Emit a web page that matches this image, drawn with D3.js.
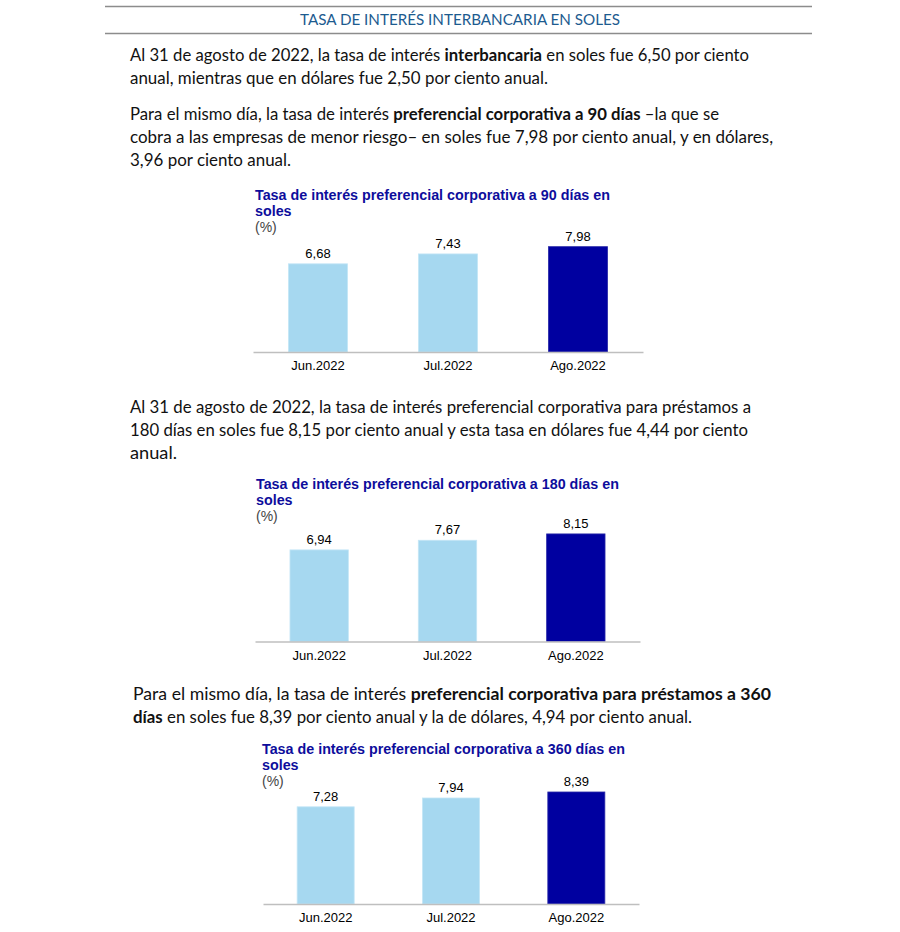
<!DOCTYPE html>
<html><head><meta charset="utf-8">
<script src="https://cdn.jsdelivr.net/npm/d3@7"></script>
<style>body{margin:0;background:#fff}svg{display:block}</style>
</head><body>
<script>
const months = ["Jun.2022","Jul.2022","Ago.2022"];
const rate90 = [6.68, 7.43, 7.98];
const rate180 = [6.94, 7.67, 8.15];
const rate360 = [7.28, 7.94, 8.39];
const valueLabels90 = ["6,68","7,43","7,98"];
const valueLabels180 = ["6,94","7,67","8,15"];
const valueLabels360 = ["7,28","7,94","8,39"];
const chartTitles = [
  ["Tasa de interés preferencial corporativa a 90 días en","soles"],
  ["Tasa de interés preferencial corporativa a 180 días en","soles"],
  ["Tasa de interés preferencial corporativa a 360 días en","soles"]
];
const headerTitle = "TASA DE INTERÉS INTERBANCARIA EN SOLES";
// paragraphs: each line is list of [text,bold]
const paragraphs = [
  {x:130, ys:[61,84], ends:[749,548], lines:[
    [["Al 31 de agosto de 2022, la tasa de interés ",0],["interbancaria",1],[" en soles fue 6,50 por ciento",0]],
    [["anual, mientras que en dólares fue 2,50 por ciento anual.",0]]]},
  {x:130, ys:[120,143,166], ends:[719,773,291], lines:[
    [["Para el mismo día, la tasa de interés ",0],["preferencial corporativa a 90 días",1],[" –la que se",0]],
    [["cobra a las empresas de menor riesgo– en soles fue 7,98 por ciento anual, y en dólares,",0]],
    [["3,96 por ciento anual.",0]]]},
  {x:130, ys:[413,436,459], ends:[751,748,177], lines:[
    [["Al 31 de agosto de 2022, la tasa de interés preferencial corporativa para préstamos a",0]],
    [["180 días en soles fue 8,15 por ciento anual y esta tasa en dólares fue 4,44 por ciento",0]],
    [["anual.",0]]]},
  {x:133, ys:[700,723], ends:[771,692], lines:[
    [["Para el mismo día, la tasa de interés ",0],["preferencial corporativa para préstamos a 360",1]],
    [["días",1],[" en soles fue 8,39 por ciento anual y la de dólares, 4,94 por ciento anual.",0]]]}
];

const W = 900, H = 932;
const svg = d3.select("body").append("svg").attr("width", W).attr("height", H);

// header
svg.append("line").attr("x1",105).attr("x2",812).attr("y1",6.5).attr("y2",6.5).attr("stroke","#8c8c8c").attr("stroke-width",1.5);
svg.append("line").attr("x1",105).attr("x2",812).attr("y1",33.5).attr("y2",33.5).attr("stroke","#8c8c8c").attr("stroke-width",1.5);
svg.append("text").attr("x",300).attr("y",25).attr("textLength",320).attr("lengthAdjust","spacingAndGlyphs")
  .attr("font-family","Lato, 'Open Sans', sans-serif").attr("font-size",16).attr("fill","#1d5b8f").text(headerTitle);

// paragraphs
const bodyFont = "Lato, 'Noto Sans', sans-serif";
paragraphs.forEach(p => {
  p.lines.forEach((ln, i) => {
    const t = svg.append("text").attr("x", p.x).attr("y", p.ys[i])
      .attr("font-family", bodyFont).attr("font-size", 17).attr("fill", "#111")
      .attr("textLength", p.ends[i] - p.x).attr("lengthAdjust", "spacingAndGlyphs")
      .attr("xml:space","preserve");
    ln.forEach(seg => t.append("tspan").attr("font-weight", seg[1] ? 700 : 400).text(seg[0]));
  });
});

// charts
const charts = [
  {vals: rate90, labels: valueLabels90, title: chartTitles[0], tx:255, ty:200, x0:253, x1:643, y0:352, h:132},
  {vals: rate180, labels: valueLabels180, title: chartTitles[1], tx:256, ty:489, x0:255, x1:640, y0:641.5, h:132},
  {vals: rate360, labels: valueLabels360, title: chartTitles[2], tx:262, ty:754, x0:263, x1:639, y0:904, h:133.5}
];
const light = "#a6d8f0", dark = "#0000a0";
const arial = "Arial, 'Liberation Sans', sans-serif";
charts.forEach(c => {
  const g = svg.append("g");
  c.title.forEach((t, i) => g.append("text").attr("x", c.tx).attr("y", c.ty + i*16)
    .attr("font-family", arial).attr("font-weight",700)
    .attr("font-size",14.3).attr("fill","#0d0d9c").text(t));
  g.append("text").attr("x", c.tx).attr("y", c.ty + 32)
    .attr("font-family", arial).attr("font-size",14).attr("fill","#444").text("(%)");
  const x = d3.scaleBand().domain(months).range([c.x0, c.x1]).paddingInner(0.545).paddingOuter(0.2725);
  const y = d3.scaleLinear().domain([0, 10]).range([c.y0, c.y0 - c.h]);
  g.selectAll("rect").data(c.vals).join("rect")
    .attr("x", (d,i) => x(months[i])).attr("width", x.bandwidth())
    .attr("y", d => y(d)).attr("height", d => y(0) - y(d))
    .attr("fill", (d,i) => i === 2 ? dark : light)
    .attr("stroke", (d,i) => i === 2 ? "#2a2aa8" : "#c4e6f6").attr("stroke-width", 0.8);
  g.selectAll("text.v").data(c.vals).join("text").attr("class","v")
    .attr("x", (d,i) => x(months[i]) + x.bandwidth()/2).attr("y", d => y(d) - 6)
    .attr("text-anchor","middle").attr("font-family", arial)
    .attr("font-size",13).attr("fill","#000").text((d,i) => c.labels[i]);
  const ax = g.append("g").attr("transform", `translate(0,${c.y0})`)
    .call(d3.axisBottom(x).tickSize(0).tickPadding(9));
  ax.select(".domain").attr("stroke","#bfbfbf").attr("stroke-width",1.5);
  ax.selectAll("text").attr("font-family", arial).attr("font-size",13).attr("fill","#000");
});
</script>
</body></html>
